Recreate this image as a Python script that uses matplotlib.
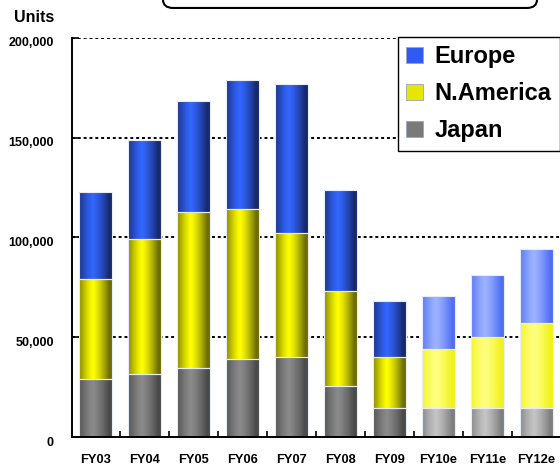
import numpy as np
import matplotlib
matplotlib.use("Agg")
import matplotlib.pyplot as plt
from matplotlib.colors import LinearSegmentedColormap
from matplotlib.patches import FancyBboxPatch, Patch
from matplotlib.ticker import FuncFormatter
import matplotlib.transforms as mtransforms

# Unit sales by region (FY10e-FY12e are estimates)
years = ["FY03", "FY04", "FY05", "FY06", "FY07", "FY08", "FY09", "FY10e", "FY11e", "FY12e"]
japan = [29000, 31600, 34700, 38900, 40100, 25600, 14400, 14400, 14400, 14400]
n_america = [50200, 67600, 78000, 75300, 62100, 47500, 25800, 29500, 35600, 42600]
europe = [43600, 49600, 55600, 64700, 74800, 50600, 27900, 26700, 31000, 37200]
n_actual = 7

# (edge colour, centre colour) for the shaded bars: actual / estimate
shades = {
    "Europe": [("#17296e", "#3366ff"), ("#4f6ef5", "#9cb2ff")],
    "N.America": [("#6e6e00", "#ffff00"), ("#f2f21a", "#ffff80")],
    "Japan": [("#4a4a4a", "#8a8a8a"), ("#7e7e7e", "#c4c4c4")],
}
legend_colors = {"Europe": "#2f5bf0", "N.America": "#e6e600", "Japan": "#7a7a7a"}

plt.rcParams["font.family"] = ["Liberation Sans", "DejaVu Sans"]
plt.rcParams["font.weight"] = "bold"


def shaded_bars(ax, x, bottoms, heights, name, width=0.67):
    bars = ax.bar(x, heights, width, bottom=bottoms, color="none",
                  edgecolor="#e8ecf4", linewidth=0.8, zorder=3)
    grad = np.abs(np.linspace(-1, 1, 64) + 0.15)
    grad = 1 - np.clip(grad, 0, 1) ** 1.3
    for i, bar in enumerate(bars):
        edge, centre = shades[name][0 if i < n_actual else 1]
        cmap = LinearSegmentedColormap.from_list(name, [edge, centre])
        x0, y0 = bar.get_x(), bar.get_y()
        im = ax.imshow(grad[np.newaxis, :], cmap=cmap, aspect="auto", vmin=0, vmax=1,
                       extent=[x0, x0 + bar.get_width(), y0, y0 + bar.get_height()],
                       zorder=2, interpolation="bilinear")
        im.set_clip_path(bar)
    return bars


def main():
    fig = plt.figure(figsize=(5.6, 4.68), dpi=100)
    ax = fig.add_axes([72 / 560, 31 / 468, 488 / 560, 399 / 468])

    x = np.arange(len(years))
    jp = np.array(japan)
    na = np.array(n_america)
    eu = np.array(europe)
    shaded_bars(ax, x, 0, jp, "Japan")
    shaded_bars(ax, x, jp, na, "N.America")
    shaded_bars(ax, x, jp + na, eu, "Europe")

    ax.set_xlim(-0.48, 9.48)
    ax.set_ylim(0, 200000)

    # axes and ticks
    for side in ["top", "right"]:
        ax.spines[side].set_visible(False)
    for side in ["left", "bottom"]:
        ax.spines[side].set_linewidth(1.4)
        ax.spines[side].set_zorder(5)
    ax.set_yticks([0, 50000, 100000, 150000, 200000])
    ax.yaxis.set_major_formatter(FuncFormatter(lambda v, p: f"{int(v):,}"))
    ax.tick_params(axis="y", direction="in", length=5, width=1.2, pad=13, labelsize=9)
    ax.set_xticks(x)
    ax.set_xticklabels(years)
    ax.set_xticks(x[:-1] + 0.5, minor=True)
    ax.tick_params(axis="x", which="major", length=0, pad=12, labelsize=9.3)
    ax.tick_params(axis="x", which="minor", direction="in", length=4, width=1.2)
    shift = mtransforms.ScaledTranslation(0, -0.04, fig.dpi_scale_trans)
    for lab in ax.get_yticklabels():
        lab.set_transform(lab.get_transform() + shift)

    # dotted gridlines behind the bars
    for v in [50000, 100000, 150000, 200000]:
        ax.axhline(v, color="black", linewidth=1.4, linestyle=(0, (1.5, 1.5)), zorder=1)

    fig.text(14 / 560, 1 - 18 / 468, "Units", fontsize=11.5, fontweight="bold",
             va="center", ha="left")

    # empty rounded box at the top
    box = FancyBboxPatch((163 / 560, 0.983), (537 - 163) / 560, 0.1,
                         boxstyle="round,pad=0,rounding_size=0.018",
                         transform=fig.transFigure, facecolor="white",
                         edgecolor="black", linewidth=1.5, clip_on=False)
    fig.patches.append(box)

    handles = [Patch(facecolor=legend_colors[n], edgecolor="#9aa4c0", linewidth=0.6)
               for n in ["Europe", "N.America", "Japan"]]
    leg = ax.legend(handles, ["Europe", "N.America", "Japan"], loc="upper left",
                    bbox_to_anchor=((398 - 72) / 488, 1.003), frameon=True,
                    fancybox=False, edgecolor="black", framealpha=1,
                    prop={"size": 17, "weight": "bold"}, handlelength=0.7,
                    handleheight=0.7, handletextpad=0.5, labelspacing=0.6,
                    borderpad=0.35, borderaxespad=0)
    leg.get_frame().set_linewidth(1.0)
    leg.set_zorder(6)

    fig.savefig("out.png", dpi=100)


if __name__ == "__main__":
    main()
